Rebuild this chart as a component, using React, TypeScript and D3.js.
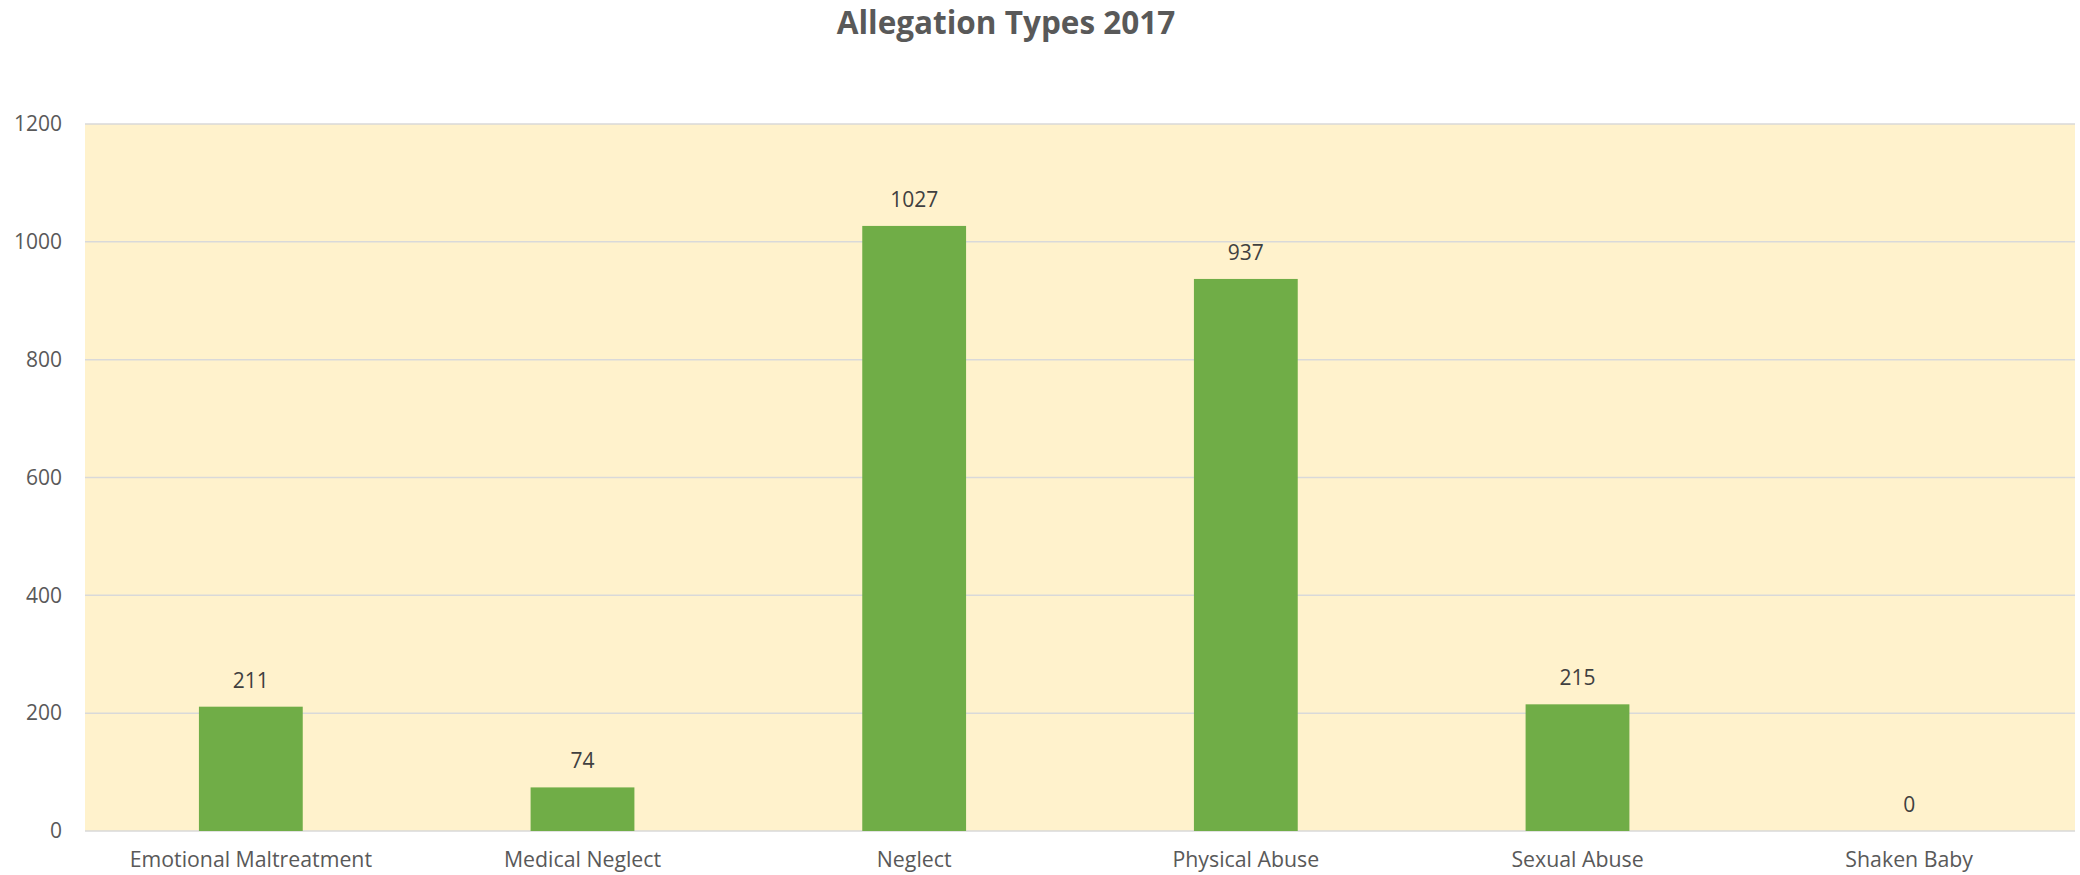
import React, { useEffect, useRef } from "react";
import * as d3 from "d3";

const categories = [
  "Emotional Maltreatment",
  "Medical Neglect",
  "Neglect",
  "Physical Abuse",
  "Sexual Abuse",
  "Shaken Baby",
];
const values = [211, 74, 1027, 937, 215, 0];
const yTicks = [0, 200, 400, 600, 800, 1000, 1200];
const title = "Allegation Types 2017";

export default function App() {
  const svgRef = useRef<SVGSVGElement>(null);

  useEffect(() => {
    const w = 2080;
    const h = 875;
    const m = { left: 85, right: 5, top: 124, bottom: 44 };
    const font = "'Open Sans', sans-serif";

    const svg = d3.select(svgRef.current);
    svg.selectAll("*").remove();
    svg
      .attr("width", w)
      .attr("height", h)
      .style("position", "absolute")
      .style("left", "0px")
      .style("top", "0px")
      .style("overflow", "visible");

    const x = d3
      .scaleBand()
      .domain(categories)
      .range([m.left, w - m.right])
      .padding(0);

    const y = d3
      .scaleLinear()
      .domain([0, 1200])
      .range([h - m.bottom, m.top]);

    // plot background
    svg
      .append("rect")
      .attr("x", m.left)
      .attr("y", m.top)
      .attr("width", w - m.left - m.right)
      .attr("height", h - m.top - m.bottom)
      .attr("fill", "#FFF2CC");

    // gridlines
    svg
      .append("g")
      .selectAll("line")
      .data(yTicks)
      .join("line")
      .attr("x1", m.left)
      .attr("x2", w - m.right)
      .attr("y1", (d) => y(d))
      .attr("y2", (d) => y(d))
      .attr("stroke", "#d9d9d9")
      .attr("stroke-width", 1.5);

    // y axis labels
    const yAxis = d3
      .axisLeft(y)
      .tickValues(yTicks)
      .tickFormat(d3.format("d"))
      .tickSize(0)
      .tickPadding(23);
    const gy = svg.append("g").attr("transform", `translate(${m.left},0)`).call(yAxis);
    gy.select(".domain").remove();
    gy.selectAll("text")
      .attr("fill", "#595959")
      .style("font-family", font)
      .style("font-size", "21px");

    // x axis labels
    const xAxis = d3.axisBottom(x).tickSize(0).tickPadding(21);
    const gx = svg.append("g").attr("transform", `translate(0,${h - m.bottom})`).call(xAxis);
    gx.select(".domain").remove();
    gx.selectAll("text")
      .attr("fill", "#595959")
      .style("font-family", font)
      .style("font-size", "21.3px");

    // bars
    const bw = x.bandwidth() * 0.313;
    svg
      .append("g")
      .selectAll("rect")
      .data(values)
      .join("rect")
      .attr("x", (d, i) => x(categories[i])! + (x.bandwidth() - bw) / 2)
      .attr("y", (d) => y(d))
      .attr("width", bw)
      .attr("height", (d) => y(0) - y(d))
      .attr("fill", "#70AD47");

    // value labels
    svg
      .append("g")
      .selectAll("text")
      .data(values)
      .join("text")
      .attr("x", (d, i) => x(categories[i])! + x.bandwidth() / 2)
      .attr("y", (d) => y(d) - 19)
      .attr("text-anchor", "middle")
      .attr("fill", "#404040")
      .style("font-family", font)
      .style("font-size", "21px")
      .text((d) => d);

    // title
    svg
      .append("text")
      .attr("x", 1006)
      .attr("y", 34)
      .attr("text-anchor", "middle")
      .attr("fill", "#595959")
      .style("font-family", font)
      .style("font-size", "31.5px")
      .style("font-weight", "bold")
      .text(title);
  }, []);

  return (
    <div>
      <svg ref={svgRef}></svg>
    </div>
  );
}
